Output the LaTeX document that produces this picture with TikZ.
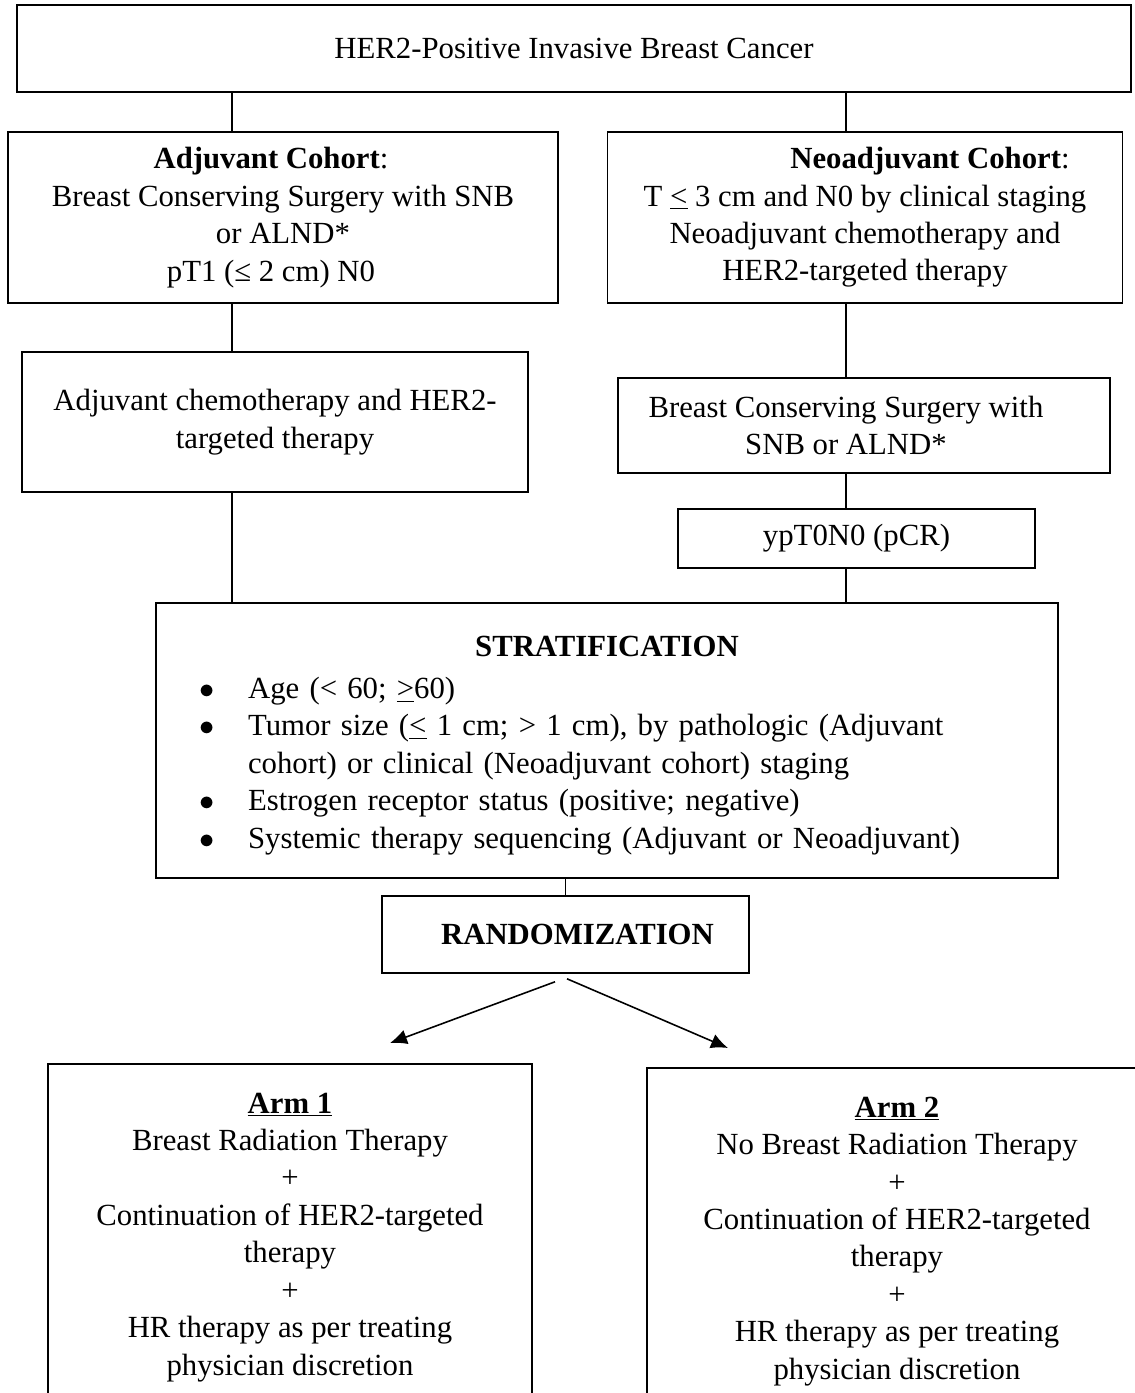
\documentclass[tikz,border=0pt]{standalone}
\usepackage{fontspec}
\setmainfont{Liberation Serif}
\usepackage{xcolor}
\usepackage{tikz}
\usetikzlibrary{arrows.meta}

\begin{document}
\begin{tikzpicture}[
	x=0.02cm, y=-0.02cm,
	every node/.style={font=\fontsize{17.5}{21.3}\selectfont},
	flow box/.style={draw, line width=0.9pt, align=center, inner sep=0pt},
	flow link/.style={draw, line width=0.9pt},
	split arrow/.style={flow link, ->, >={Latex[length=0.34cm, width=0.3cm]}}
	]
	\useasboundingbox (0,0) rectangle (1135,1393);
	\clip (0,0) rectangle (1135,1393);

	% where the vertical links run
	\coordinate (lx) at (232,0);
	\coordinate (rx) at (846,0);

	\node[flow box, minimum width=22.28cm, minimum height=1.74cm] (her2) at (574,48.5)
		{HER2-Positive Invasive Breast Cancer};

	\node[flow box, minimum width=11cm, minimum height=3.42cm] (adj) at (283,217.5)
		{\textbf{Adjuvant Cohort}:\hspace*{0.48cm}\\
		Breast Conserving Surgery with SNB\hspace*{0.48cm}\\
		or ALND*\hspace*{0.48cm}\\
		pT1 (≤ 2 cm) N0\hspace*{0.48cm}};
	\node[flow box, minimum width=10.3cm, minimum height=3.42cm] (neo) at (865,217.5)
		{\hspace*{2.6cm}\textbf{Neoadjuvant Cohort}:\\
		T \underline{<} 3 cm and N0 by clinical staging\\
		Neoadjuvant chemotherapy and\\
		HER2-targeted therapy};

	\node[flow box, minimum width=10.12cm, minimum height=2.8cm] (chemo) at (275,422)
		{Adjuvant chemotherapy and HER2-\\targeted therapy};
	\node[flow box, minimum width=9.84cm, minimum height=1.9cm] (bcs) at (864,425.5)
		{Breast Conserving Surgery with\hspace*{0.72cm}\\SNB or ALND*\hspace*{0.72cm}};
	\node[flow box, minimum width=7.14cm, minimum height=1.18cm] (pcr) at (856.5,538.5)
		{ypT0N0 (pCR)};

	\node[flow box, minimum width=18.04cm, minimum height=5.5cm, text width=18.04cm, align=left] (strat) at (607,740.5)
		{{\centering\rule{0pt}{0.6cm}\textbf{STRATIFICATION}\par}
		\vspace{0.1cm}
		\begin{list}{$\bullet$}{\setlength{\leftmargin}{1.84cm}\setlength{\labelsep}{0.66cm}%
			\setlength{\labelwidth}{1.18cm}\setlength{\itemsep}{0pt}\setlength{\parsep}{0pt}%
			\setlength{\topsep}{0pt}\setlength{\partopsep}{0pt}}
			\raggedright
			\item Age (< 60; \underline{>}60)
			\item Tumor size (\underline{<} 1 cm; > 1 cm), by pathologic (Adjuvant\newline
				cohort) or clinical (Neoadjuvant cohort) staging
			\item Estrogen receptor status (positive; negative)
			\item Systemic therapy sequencing (Adjuvant or Neoadjuvant)
		\end{list}};

	\node[flow box, minimum width=7.34cm, minimum height=1.54cm] (rand) at (565.5,934.5)
		{\hspace*{0.48cm}\textbf{RANDOMIZATION}};

	\node[flow box, anchor=north, minimum width=9.68cm, inner ysep=0.58cm] (arm1) at (290,1063)
		{\underline{\textbf{Arm 1}}\\
		Breast Radiation Therapy\\
		+\\
		Continuation of HER2-targeted\\
		therapy\\
		+\\
		HR therapy as per treating\\
		physician discretion};
	\node[flow box, anchor=north, minimum width=10cm, inner ysep=0.58cm] (arm2) at (897,1067)
		{\underline{\textbf{Arm 2}}\\
		No Breast Radiation Therapy\\
		+\\
		Continuation of HER2-targeted\\
		therapy\\
		+\\
		HR therapy as per treating\\
		physician discretion};

	% arrow ends above the arms
	\coordinate (tip1) at (390,1043);
	\coordinate (tip2) at (728,1048);

	\draw[flow link] (her2.south -| lx) -- (adj.north -| lx);
	\draw[flow link] (her2.south -| rx) -- (neo.north -| rx);
	\draw[flow link] (adj.south -| lx) -- (chemo.north -| lx);
	\draw[flow link] (chemo.south -| lx) -- (strat.north -| lx);
	\draw[flow link] (neo.south -| rx) -- (bcs.north -| rx);
	\draw[flow link] (bcs.south -| rx) -- (pcr.north -| rx);
	\draw[flow link] (pcr.south -| rx) -- (strat.north -| rx);
	\draw[flow link] (strat.south -| rand.north) -- (rand.north);
	\draw[split arrow] ([shift={(-10.5,8)}]rand.south) -- (tip1);
	\draw[split arrow] ([shift={(1.5,5)}]rand.south) -- (tip2);
\end{tikzpicture}
\end{document}
